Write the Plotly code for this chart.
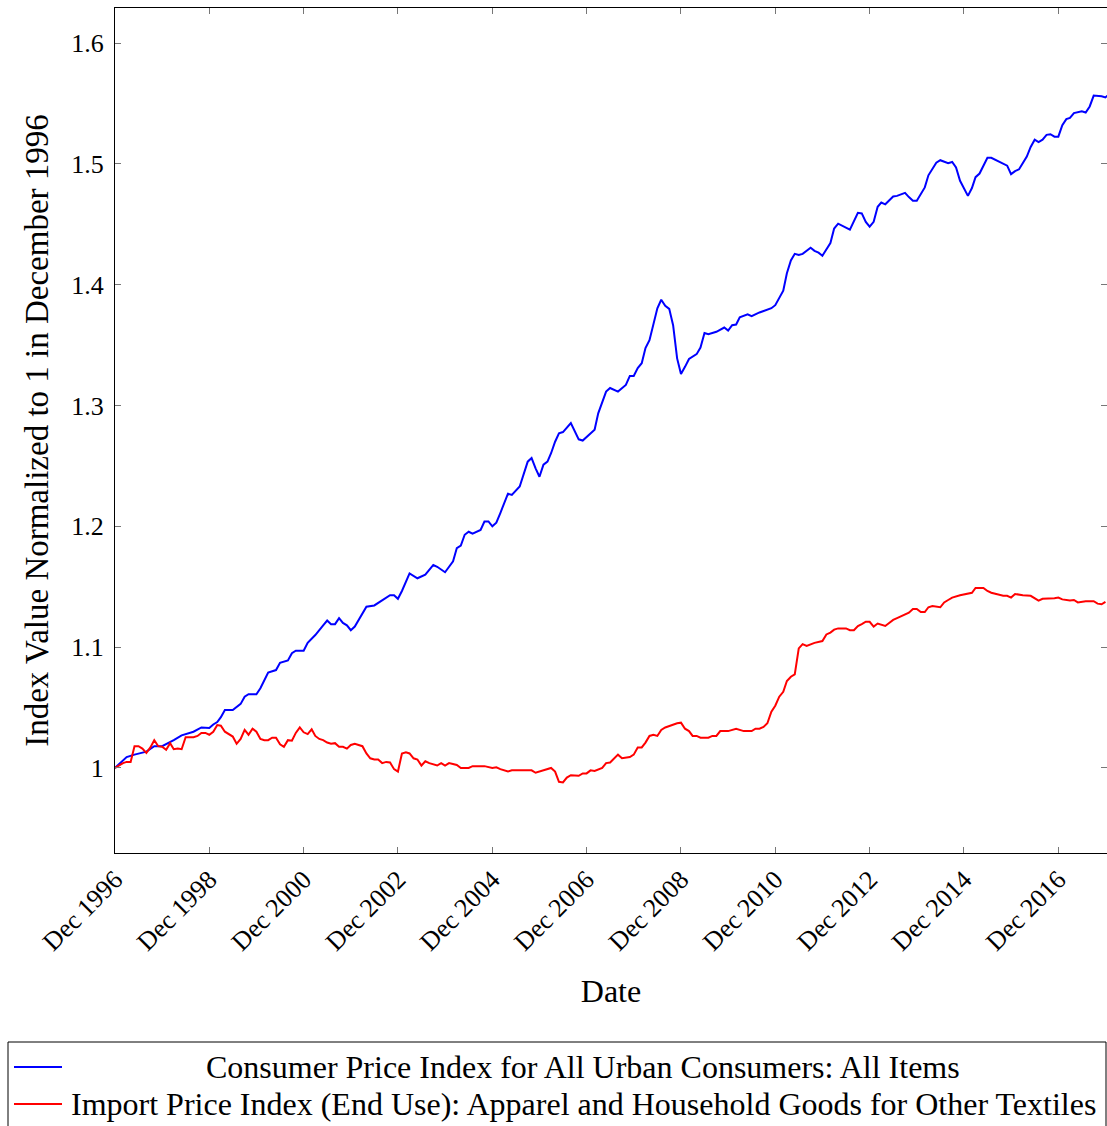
import pandas as pd
import plotly.graph_objects as go

# Consumer Price Index for All Urban Consumers, normalized to Dec 1996
cpi_dates = [
    "1996-12", "1997-03", "1997-05", "1997-08", "1997-10", "1997-12", "1998-03", "1998-05",
    "1998-08", "1998-10", "1998-12", "1999-01", "1999-02", "1999-03", "1999-04", "1999-06",
    "1999-08", "1999-09", "1999-10", "1999-12", "2000-01", "2000-03", "2000-05", "2000-06",
    "2000-08", "2000-09", "2000-10", "2000-12", "2001-01", "2001-03", "2001-05", "2001-06",
    "2001-07", "2001-08", "2001-09", "2001-10", "2001-11", "2001-12", "2002-01", "2002-02",
    "2002-04", "2002-06", "2002-08", "2002-10", "2002-11", "2002-12", "2003-01", "2003-03",
    "2003-05", "2003-07", "2003-09", "2003-10", "2003-12", "2004-02", "2004-03", "2004-04",
    "2004-05", "2004-06", "2004-07", "2004-09", "2004-10", "2004-11", "2004-12", "2005-01",
    "2005-02", "2005-04", "2005-05", "2005-07", "2005-09", "2005-10", "2005-11", "2005-12",
    "2006-01", "2006-02", "2006-03", "2006-04", "2006-05", "2006-06", "2006-08", "2006-09",
    "2006-10", "2006-11", "2006-12", "2007-02", "2007-03", "2007-05", "2007-06", "2007-08",
    "2007-10", "2007-11", "2007-12", "2008-01", "2008-02", "2008-03", "2008-04", "2008-05",
    "2008-06", "2008-07", "2008-08", "2008-09", "2008-10", "2008-11", "2008-12", "2009-01",
    "2009-02", "2009-04", "2009-05", "2009-06", "2009-07", "2009-09", "2009-11", "2009-12",
    "2010-01", "2010-02", "2010-03", "2010-05", "2010-06", "2010-08", "2010-10", "2010-11",
    "2010-12", "2011-02", "2011-03", "2011-04", "2011-05", "2011-06", "2011-07", "2011-09",
    "2011-10", "2011-11", "2011-12", "2012-02", "2012-03", "2012-04", "2012-07", "2012-09",
    "2012-10", "2012-11", "2012-12", "2013-01", "2013-02", "2013-03", "2013-04", "2013-06",
    "2013-07", "2013-09", "2013-10", "2013-11", "2013-12", "2014-02", "2014-03", "2014-05",
    "2014-06", "2014-07", "2014-08", "2014-09", "2014-10", "2014-11", "2015-01", "2015-02",
    "2015-03", "2015-04", "2015-05", "2015-06", "2015-07", "2015-09", "2015-10", "2015-11",
    "2015-12", "2016-01", "2016-02", "2016-04", "2016-05", "2016-06", "2016-07", "2016-08",
    "2016-09", "2016-10", "2016-11", "2016-12", "2017-01", "2017-02", "2017-03", "2017-04",
    "2017-06", "2017-07", "2017-08", "2017-09", "2017-11", "2017-12", "2018-01",
]
cpi_values = [
    1.000, 1.009, 1.011, 1.0135, 1.018, 1.018, 1.023, 1.027,
    1.030, 1.0335, 1.033, 1.036, 1.038, 1.042, 1.048, 1.048,
    1.053, 1.059, 1.061, 1.061, 1.066, 1.079, 1.081, 1.087,
    1.089, 1.095, 1.097, 1.097, 1.1035, 1.110, 1.118, 1.122,
    1.119, 1.119, 1.124, 1.120, 1.118, 1.114, 1.117, 1.123,
    1.1335, 1.1345, 1.139, 1.143, 1.143, 1.140, 1.1465, 1.161,
    1.157, 1.160, 1.168, 1.1665, 1.162, 1.171, 1.182, 1.184,
    1.193, 1.1955, 1.194, 1.197, 1.204, 1.204, 1.200, 1.203,
    1.211, 1.227, 1.226, 1.233, 1.2535, 1.2565, 1.248, 1.241,
    1.251, 1.2535, 1.2605, 1.270, 1.277, 1.278, 1.2855, 1.278,
    1.272, 1.271, 1.274, 1.280, 1.2935, 1.3115, 1.3145, 1.3115,
    1.317, 1.3245, 1.3245, 1.331, 1.335, 1.3475, 1.354, 1.3665,
    1.3805, 1.3875, 1.3825, 1.380, 1.3665, 1.339, 1.326, 1.332,
    1.3385, 1.3425, 1.348, 1.360, 1.359, 1.361, 1.3645, 1.362,
    1.3665, 1.367, 1.373, 1.3755, 1.374, 1.377, 1.379, 1.3805,
    1.383, 1.395, 1.4095, 1.420, 1.4255, 1.4245, 1.4255, 1.4305,
    1.428, 1.4265, 1.424, 1.4345, 1.4465, 1.4505, 1.4455, 1.4595,
    1.459, 1.452, 1.448, 1.452, 1.4645, 1.468, 1.4665, 1.473,
    1.4735, 1.476, 1.4725, 1.4695, 1.4695, 1.4805, 1.4905, 1.501,
    1.503, 1.502, 1.5005, 1.5015, 1.497, 1.486, 1.4735, 1.480,
    1.489, 1.492, 1.499, 1.505, 1.505, 1.502, 1.5005, 1.4985,
    1.4915, 1.494, 1.4955, 1.506, 1.514, 1.520, 1.518, 1.520,
    1.524, 1.5245, 1.5225, 1.5225, 1.532, 1.537, 1.538, 1.542,
    1.5435, 1.5425, 1.5475, 1.5565, 1.556, 1.555, 1.558,
]

# Import Price Index (End Use): Apparel and Household Goods for Other Textiles
imp_dates = [
    "1996-12", "1997-02", "1997-03", "1997-04", "1997-05", "1997-06", "1997-07", "1997-08",
    "1997-09", "1997-10", "1997-11", "1997-12", "1998-01", "1998-02", "1998-03", "1998-04",
    "1998-05", "1998-06", "1998-08", "1998-09", "1998-10", "1998-11", "1998-12", "1999-01",
    "1999-02", "1999-03", "1999-04", "1999-06", "1999-07", "1999-08", "1999-09", "1999-10",
    "1999-11", "1999-12", "2000-01", "2000-02", "2000-03", "2000-04", "2000-05", "2000-06",
    "2000-07", "2000-08", "2000-09", "2000-10", "2000-11", "2000-12", "2001-01", "2001-02",
    "2001-03", "2001-04", "2001-05", "2001-06", "2001-07", "2001-08", "2001-09", "2001-10",
    "2001-11", "2001-12", "2002-01", "2002-03", "2002-04", "2002-05", "2002-06", "2002-07",
    "2002-08", "2002-09", "2002-10", "2002-11", "2002-12", "2003-01", "2003-02", "2003-03",
    "2003-04", "2003-05", "2003-06", "2003-07", "2003-08", "2003-10", "2003-11", "2003-12",
    "2004-01", "2004-03", "2004-04", "2004-06", "2004-07", "2004-10", "2004-12", "2005-01",
    "2005-02", "2005-04", "2005-05", "2005-10", "2005-11", "2006-01", "2006-03", "2006-04",
    "2006-05", "2006-06", "2006-07", "2006-08", "2006-09", "2006-10", "2006-11", "2006-12",
    "2007-01", "2007-02", "2007-04", "2007-05", "2007-06", "2007-08", "2007-09", "2007-11",
    "2007-12", "2008-01", "2008-02", "2008-03", "2008-04", "2008-05", "2008-06", "2008-07",
    "2008-08", "2008-10", "2008-11", "2008-12", "2009-01", "2009-02", "2009-03", "2009-04",
    "2009-05", "2009-07", "2009-08", "2009-09", "2009-10", "2009-12", "2010-02", "2010-04",
    "2010-06", "2010-07", "2010-08", "2010-09", "2010-10", "2010-11", "2010-12", "2011-01",
    "2011-02", "2011-03", "2011-04", "2011-05", "2011-06", "2011-07", "2011-08", "2011-10",
    "2011-12", "2012-01", "2012-02", "2012-03", "2012-04", "2012-06", "2012-07", "2012-08",
    "2012-09", "2012-10", "2012-11", "2012-12", "2013-01", "2013-02", "2013-04", "2013-05",
    "2013-06", "2013-07", "2013-09", "2013-10", "2013-11", "2013-12", "2014-01", "2014-02",
    "2014-03", "2014-04", "2014-06", "2014-07", "2014-08", "2014-09", "2014-11", "2014-12",
    "2015-02", "2015-03", "2015-05", "2015-06", "2015-07", "2015-10", "2015-11", "2015-12",
    "2016-01", "2016-03", "2016-05", "2016-07", "2016-08", "2016-11", "2016-12", "2017-01",
    "2017-03", "2017-04", "2017-05", "2017-07", "2017-09", "2017-10", "2017-11", "2017-12",
]
imp_values = [
    1.000, 1.004, 1.005, 1.005, 1.018, 1.018, 1.016, 1.0125,
    1.017, 1.023, 1.018, 1.0175, 1.015, 1.0205, 1.0155, 1.016,
    1.0155, 1.0255, 1.0255, 1.0265, 1.029, 1.029, 1.0275, 1.030,
    1.0355, 1.035, 1.030, 1.026, 1.020, 1.024, 1.0315, 1.0275,
    1.0325, 1.030, 1.024, 1.023, 1.023, 1.025, 1.025, 1.0195,
    1.0175, 1.023, 1.0225, 1.029, 1.0335, 1.0295, 1.028, 1.032,
    1.0265, 1.024, 1.023, 1.021, 1.020, 1.0205, 1.0175, 1.0175,
    1.016, 1.019, 1.020, 1.018, 1.012, 1.008, 1.007, 1.007,
    1.004, 1.005, 1.0045, 0.999, 0.997, 1.012, 1.013, 1.012,
    1.008, 1.007, 1.002, 1.0055, 1.004, 1.002, 1.004, 1.002,
    1.004, 1.0025, 1.000, 1.000, 1.0015, 1.0015, 1.000, 1.0005,
    0.999, 0.997, 0.998, 0.998, 0.996, 0.998, 1.000, 0.997,
    0.9885, 0.988, 0.992, 0.994, 0.9935, 0.9935, 0.9955, 0.9955,
    0.998, 0.9975, 1.000, 1.004, 1.0045, 1.011, 1.008, 1.009,
    1.011, 1.017, 1.017, 1.021, 1.0265, 1.0275, 1.0265, 1.0315,
    1.0335, 1.036, 1.037, 1.0375, 1.0325, 1.0305, 1.0265, 1.0265,
    1.025, 1.025, 1.0265, 1.0265, 1.0305, 1.0305, 1.0325, 1.0305,
    1.0305, 1.0325, 1.0325, 1.034, 1.037, 1.0465, 1.0515, 1.059,
    1.063, 1.072, 1.0755, 1.0775, 1.099, 1.1025, 1.101, 1.1035,
    1.105, 1.1105, 1.112, 1.1145, 1.1155, 1.1155, 1.114, 1.114,
    1.1175, 1.119, 1.121, 1.121, 1.117, 1.1195, 1.1175, 1.120,
    1.1225, 1.124, 1.1275, 1.1285, 1.1315, 1.1315, 1.129, 1.129,
    1.133, 1.134, 1.133, 1.137, 1.139, 1.141, 1.143, 1.1435,
    1.145, 1.149, 1.149, 1.1465, 1.145, 1.1425, 1.1425, 1.141,
    1.144, 1.143, 1.1425, 1.1385, 1.140, 1.1405, 1.141, 1.1395,
    1.1385, 1.139, 1.137, 1.138, 1.138, 1.136, 1.1355, 1.1375,
]

series_names = [
    "Consumer Price Index for All Urban Consumers: All Items",
    "Import Price Index (End Use): Apparel and Household Goods for Other Textiles",
]
series_colors = ["#0000ff", "#ff0000"]

tick_years = [1996, 1998, 2000, 2002, 2004, 2006, 2008, 2010, 2012, 2014, 2016]
tick_labels = [f"Dec {y}" for y in tick_years]
y_ticks = [1.0, 1.1, 1.2, 1.3, 1.4, 1.5, 1.6]
y_tick_labels = ["1", "1.1", "1.2", "1.3", "1.4", "1.5", "1.6"]

FONT = "Liberation Serif"
W, H = 1107, 1126
ML, MR, MT, MB = 115, 0, 8, 273
PW, PH = W - ML - MR, H - MT - MB


def px(x):
    return (x - ML) / PW


def py(y):
    return (H - MB - y) / PH


fig = go.Figure()
for dates, vals, name, color in zip(
    [cpi_dates, imp_dates], [cpi_values, imp_values], series_names, series_colors
):
    fig.add_trace(
        go.Scatter(
            x=pd.to_datetime(dates, format="%Y-%m"),
            y=vals,
            mode="lines",
            name=name,
            line=dict(color=color, width=2),
            showlegend=False,
        )
    )

tick_dates = pd.to_datetime([f"{y}-12-01" for y in tick_years])

fig.update_xaxes(
    range=["1996-12-01", "2017-12-13"],
    tickvals=tick_dates,
    ticktext=tick_labels,
    tickangle=-45,
    ticks="inside",
    ticklen=6,
    tickcolor="#777777",
    showline=True,
    linecolor="black",
    linewidth=1,
    mirror="ticks",
    showgrid=False,
    zeroline=False,
    tickfont=dict(family=FONT, size=26, color="black"),
    title=dict(text="Date", font=dict(family=FONT, size=32, color="black"), standoff=24),
)
fig.update_yaxes(
    range=[0.9296, 1.629],
    tickvals=y_ticks,
    ticktext=y_tick_labels,
    ticks="inside",
    ticklen=6,
    tickcolor="#777777",
    showline=True,
    linecolor="black",
    linewidth=1,
    mirror="ticks",
    showgrid=False,
    zeroline=False,
    ticklabelstandoff=5,
    tickfont=dict(family=FONT, size=26, color="black"),
    title=dict(
        text="Index Value Normalized to 1 in December 1996",
        font=dict(family=FONT, size=33, color="black"),
        standoff=12,
    ),
)

# Legend box drawn below the axis, entries centred in the column
shapes = [
    dict(type="rect", xref="paper", yref="paper",
         x0=px(8), x1=px(1106), y0=py(1140), y1=py(1042),
         line=dict(color="black", width=1), fillcolor="rgba(0,0,0,0)"),
]
annotations = []
for row_y, name, color in zip([1067, 1104], series_names, series_colors):
    shapes.append(dict(type="line", xref="paper", yref="paper",
                       x0=px(14), x1=px(62), y0=py(row_y), y1=py(row_y),
                       line=dict(color=color, width=2)))
    annotations.append(dict(xref="paper", yref="paper", x=px(583), y=py(row_y),
                            text=name, showarrow=False, xanchor="center", yanchor="middle",
                            font=dict(family=FONT, size=32, color="black")))

fig.update_layout(
    width=W,
    height=H,
    margin=dict(l=ML, r=MR, t=MT, b=MB, pad=0),
    paper_bgcolor="white",
    plot_bgcolor="white",
    shapes=shapes,
    annotations=annotations,
    showlegend=False,
)

fig.write_html("out.html")
